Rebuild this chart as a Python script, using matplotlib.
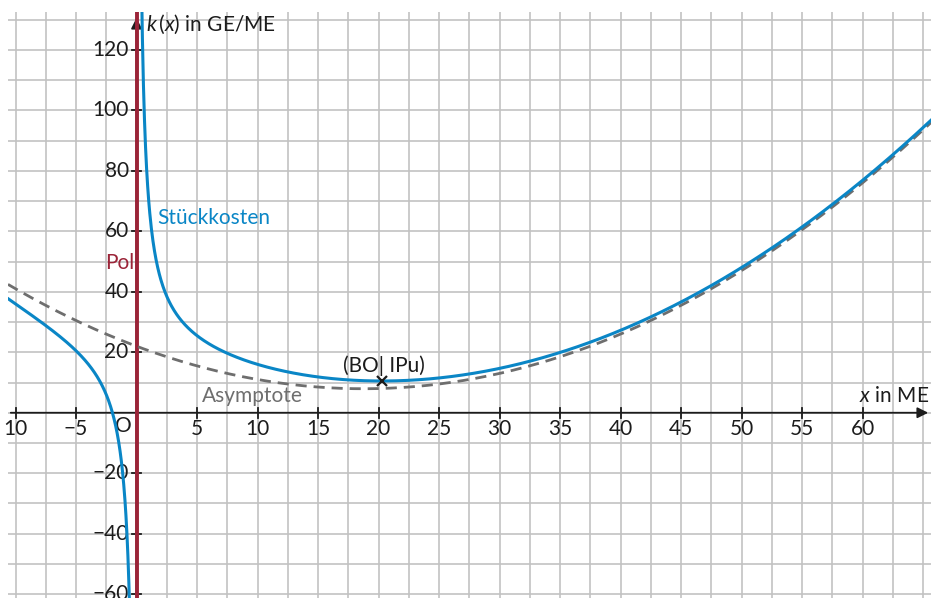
import numpy as np
import matplotlib.pyplot as plt

plt.rcParams["font.family"] = ["Lato", "DejaVu Sans"]
plt.rcParams["mathtext.fontset"] = "custom"
plt.rcParams["mathtext.it"] = "Lato:italic"
plt.rcParams["mathtext.rm"] = "Lato"

# total cost K(x) = a x^3 + b x^2 + c x + d, unit cost k(x) = K(x)/x
cost_coef = [0.04, -1.5, 22.0, 50.0]

x_ticks = [-10, -5, 5, 10, 15, 20, 25, 30, 35, 40, 45, 50, 55, 60]
x_labels = ["10", "\u22125", "5", "10", "15", "20", "25", "30", "35", "40", "45", "50", "55", "60"]
y_ticks = [-60, -40, -20, 20, 40, 60, 80, 100, 120]
y_labels = ["\u221260", "\u221240", "\u221220", "20", "40", "60", "80", "100", "120"]

x_lo, x_hi = -10.62, 65.66
y_lo, y_hi = -61.25, 132.5

blue = "#0a86c6"
red = "#9b2438"
gray = "#6e6e6e"
ink = "#1c1c1c"
fs = 15

a, b, c, d = cost_coef


def asym(x):
    return a * x**2 + b * x + c


def k(x):
    return asym(x) + d / x


fig = plt.figure(figsize=(9.31, 5.98), dpi=100)
ax = fig.add_axes([8 / 931, 0, 1 - 8 / 931, 1 - 12 / 598])
ax.set_xlim(x_lo, x_hi)
ax.set_ylim(y_lo, y_hi)
ax.axis("off")

# grid
for gx in np.arange(-10, 65.1, 2.5):
    ax.axvline(gx, color="#c2c2c2", lw=1.2, zorder=1)
for gy in np.arange(-60, 131, 10):
    ax.axhline(gy, color="#c2c2c2", lw=1.2, zorder=1)

# axes
ax.annotate("", xy=(x_hi, 0), xytext=(x_lo, 0),
            arrowprops=dict(arrowstyle="-|>", color=ink, lw=1.3,
                            mutation_scale=16), zorder=3)
ax.annotate("", xy=(0, y_hi - 1), xytext=(0, y_lo),
            arrowprops=dict(arrowstyle="-|>", color=ink, lw=1.3,
                            mutation_scale=16), zorder=3)

for t, lab in zip(x_ticks, x_labels):
    ax.plot([t, t], [-1.6, 1.6], color=ink, lw=1.3, zorder=3)
    ax.text(t, -5.4, lab, ha="center", va="center", fontsize=fs, color=ink, zorder=5)
for t, lab in zip(y_ticks, y_labels):
    ax.plot([-0.35, 0.35], [t, t], color=ink, lw=1.3, zorder=3)
    ax.text(-0.65, t, lab, ha="right", va="center", fontsize=fs, color=ink, zorder=5)

ax.text(-1.1, -4.5, "O", ha="center", va="center", fontsize=fs, color=ink, zorder=5)

# pole
ax.axvline(0, color=red, lw=2.8, zorder=4)

# asymptote
xs = np.linspace(x_lo, x_hi, 600)
ax.plot(xs, asym(xs), color=gray, lw=2.0, ls=(0, (4, 2.5)), zorder=5)

# unit cost curve
xn = np.linspace(x_lo, -0.55, 500)
xp = np.linspace(0.4, x_hi, 1500)
ax.plot(xn, k(xn), color=blue, lw=2.2, zorder=6)
ax.plot(xp, k(xp), color=blue, lw=2.2, zorder=6)

# minimum (BO)
xm = np.linspace(5, 40, 3501)
x_bo = xm[np.argmin(k(xm))]
ax.plot(x_bo, k(x_bo), marker="x", color=ink, ms=7, mew=1.6, zorder=7)
ax.text(x_bo + 0.15, 15.6, "(BO| IPu)", ha="center", va="center", fontsize=fs, color=ink, zorder=7)

ax.text(1.7, 64.5, "Stückkosten", ha="left", va="center", fontsize=fs, color=blue, zorder=7)
ax.text(-0.2, 49.5, "Pol", ha="right", va="center", fontsize=fs, color=red, zorder=7)
ax.text(5.4, 5.5, "Asymptote", ha="left", va="center", fontsize=fs, color=gray, zorder=7)
ax.text(65.5, 5.4, "$x$ in ME", ha="right", va="center", fontsize=fs, color=ink, zorder=7)
ax.text(0.75, 128.3, "$k\\,(x)$ in GE/ME", ha="left", va="center", fontsize=fs, color=ink, zorder=7)

fig.savefig("out.png", dpi=100)
